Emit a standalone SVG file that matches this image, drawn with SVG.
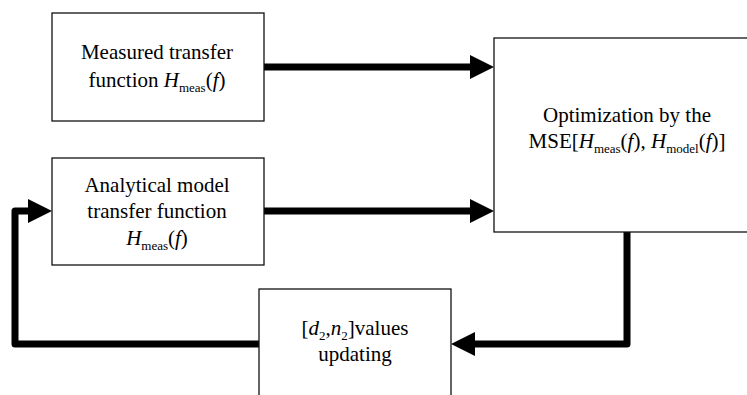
<svg xmlns="http://www.w3.org/2000/svg" width="747" height="395" viewBox="0 0 747 395">
<style>
.box{fill:#fff;stroke:#111;stroke-width:1.3}
.t{font-family:"Liberation Serif","Times New Roman",serif;font-size:21px;fill:#000;text-anchor:middle}
.i{font-style:italic}
.s{font-size:13px}
.c{fill:none;stroke:#000;stroke-width:7;stroke-linejoin:round;stroke-linecap:butt}
</style>
<defs>
<marker id="ah" markerUnits="userSpaceOnUse" markerWidth="25" markerHeight="26" refX="1" refY="13" orient="auto">
<path d="M0,1 L24,13 L0,25 Z" fill="#000"/>
</marker>
</defs>
<rect width="747" height="395" fill="#fff"/>
<g id="connectors">
<path class="c" d="M264,67 H471" marker-end="url(#ah)"/>
<path class="c" d="M264,211 H471" marker-end="url(#ah)"/>
<path class="c" d="M627,232 V344 H474" marker-end="url(#ah)"/>
<path class="c" d="M259,344 H15 V211 H29" marker-end="url(#ah)"/>
</g>
<g id="measured">
<rect class="box" x="52" y="13" width="212" height="108"/>
<text class="t" x="157" y="59">Measured transfer</text>
<text class="t" x="157" y="87">function <tspan class="i">H</tspan><tspan class="s" dy="5">meas</tspan><tspan dy="-5">(</tspan><tspan class="i">f</tspan>)</text>
</g>
<g id="model">
<rect class="box" x="52" y="158" width="212" height="107"/>
<text class="t" x="157" y="192">Analytical model</text>
<text class="t" x="157" y="218">transfer function</text>
<text class="t" x="157" y="245"><tspan class="i">H</tspan><tspan class="s" dy="5">meas</tspan><tspan dy="-5">(</tspan><tspan class="i">f</tspan>)</text>
</g>
<g id="optimization">
<rect class="box" x="494" y="38" width="270" height="194"/>
<text class="t" x="627" y="122">Optimization by the</text>
<text class="t" x="627" y="148">MSE[<tspan class="i">H</tspan><tspan class="s" dy="5">meas</tspan><tspan dy="-5">(</tspan><tspan class="i">f</tspan>), <tspan class="i">H</tspan><tspan class="s" dy="5">model</tspan><tspan dy="-5">(</tspan><tspan class="i">f</tspan>)]</text>
</g>
<g id="update">
<rect class="box" x="259" y="289" width="192" height="120"/>
<text class="t" x="355" y="335">[<tspan class="i">d</tspan><tspan class="s" dy="5">2</tspan><tspan dy="-5">,</tspan><tspan class="i">n</tspan><tspan class="s" dy="5">2</tspan><tspan dy="-5">]values</tspan></text>
<text class="t" x="355" y="361">updating</text>
</g>
</svg>
